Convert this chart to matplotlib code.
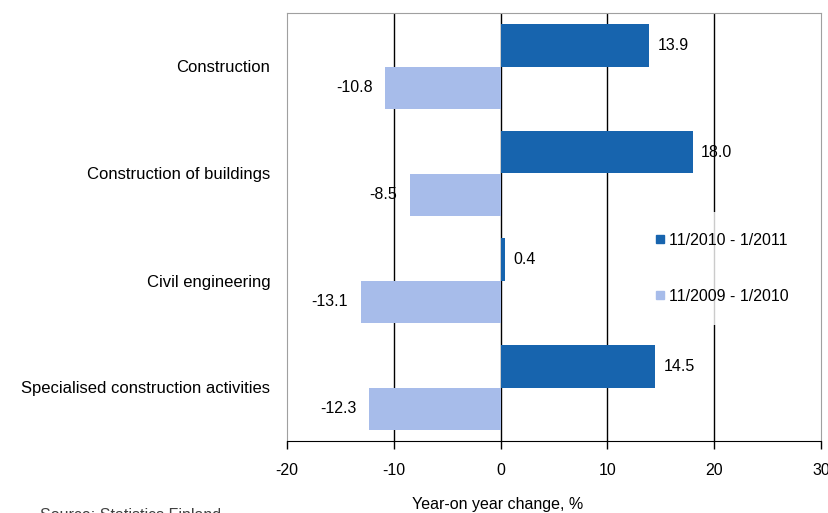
import matplotlib.pyplot as plt
from matplotlib.lines import Line2D

categories = ["Construction", "Construction of buildings", "Civil engineering",
              "Specialised construction activities"]
recent = [13.9, 18.0, 0.4, 14.5]
previous = [-10.8, -8.5, -13.1, -12.3]
series_names = ["11/2010 - 1/2011", "11/2009 - 1/2010"]
x_ticks = [-20, -10, 0, 10, 20, 30]

DARK = "#1764ae"
LIGHT = "#a7bcea"

plt.rcParams['font.family'] = ['Liberation Sans', 'DejaVu Sans']


def draw_bars(ax):
    pos = list(range(len(categories)))
    h = 0.4
    ax.barh([p - h / 2 for p in pos], recent, height=h, color=DARK, zorder=3)
    ax.barh([p + h / 2 for p in pos], previous, height=h, color=LIGHT, zorder=3)

    for p, v in zip(pos, recent):
        ax.annotate(f"{v:.1f}", (v, p - h / 2), xytext=(6, 0), textcoords="offset points",
                    ha="left", va="center", fontsize=11.5, zorder=5)
    for p, v in zip(pos, previous):
        ax.annotate(f"{v:.1f}", (v, p + h / 2), xytext=(-9, 0), textcoords="offset points",
                    ha="right", va="center", fontsize=11.5, zorder=5)
    return pos


def decorate(ax, pos):
    ax.set_xlim(-20, 30)
    ax.set_ylim(len(categories) - 0.5, -0.5)
    ax.set_xticks(x_ticks)
    ax.set_xticklabels([str(t) for t in x_ticks], fontsize=11.5)
    ax.set_yticks(pos)
    ax.set_yticklabels(categories, fontsize=12)
    ax.tick_params(axis="y", length=0, pad=12)
    ax.tick_params(axis="x", direction="out", length=6, width=1, pad=10)

    for t in x_ticks[1:-1]:
        ax.axvline(t, color="black", linewidth=1, zorder=1)

    for side in ["top", "right", "left"]:
        ax.spines[side].set_color("#a0a0a0")
    ax.spines["bottom"].set_color("black")

    handles = [Line2D([], [], marker="s", linestyle="none", markersize=6, color=c)
               for c in (DARK, LIGHT)]
    leg = ax.legend(handles, series_names, loc="upper left",
                    bbox_to_anchor=(0.635, 0.553), frameon=True, fontsize=11.5,
                    handlelength=0.6, handletextpad=0.3, labelspacing=2.55,
                    borderpad=1.3, fancybox=False)
    leg.get_frame().set_facecolor("white")
    leg.get_frame().set_edgecolor("none")
    leg.set_zorder(4)


def main():
    fig = plt.figure(figsize=(8.29, 5.13), dpi=100)
    ax = fig.add_axes([287 / 829, 1 - 441 / 513, 534 / 829, 428 / 513])
    pos = draw_bars(ax)
    decorate(ax, pos)
    fig.text(498 / 829, 1 - 505 / 513, "Year-on year change, %", ha="center",
             va="center", fontsize=11.5)
    fig.text(40 / 829, 1 - 508 / 513, "Source: Statistics Finland", ha="left",
             va="top", fontsize=11.5, color="#404040")
    fig.savefig("out.png", dpi=100)


if __name__ == "__main__":
    main()
